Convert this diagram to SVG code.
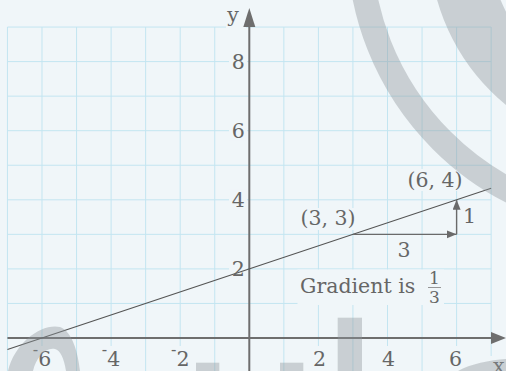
<svg xmlns="http://www.w3.org/2000/svg" width="506" height="371" viewBox="0 0 506 371">
<defs>
<style>
.grid line{stroke:#c3e5f1;stroke-width:1}
.lbl{font-family:"DejaVu Serif","Liberation Serif",serif;font-size:20.5px;fill:#666}
.bgr{fill:#f0f6f9}
.axis{stroke:#6e6e6e;stroke-width:2;fill:none}
.wm{fill:#8e969b;fill-opacity:.4}
.wma{fill:none;stroke:#8e969b;stroke-opacity:.4}
</style>
<marker id="ah" markerUnits="userSpaceOnUse" markerWidth="11" markerHeight="9" refX="10" refY="4" orient="auto">
<path d="M0,0 L10,4 L0,8 Z" fill="#6a6a6a"/>
</marker>
</defs>
<rect x="0" y="0" width="506" height="371" fill="#f0f6f9"/>
<g class="grid" id="grid">
<line x1="7.45" y1="27" x2="7.45" y2="371"/>
<line x1="42" y1="27" x2="42" y2="371"/>
<line x1="76.55" y1="27" x2="76.55" y2="371"/>
<line x1="111.1" y1="27" x2="111.1" y2="371"/>
<line x1="145.65" y1="27" x2="145.65" y2="371"/>
<line x1="180.2" y1="27" x2="180.2" y2="371"/>
<line x1="214.75" y1="27" x2="214.75" y2="371"/>
<line x1="283.85" y1="27" x2="283.85" y2="371"/>
<line x1="318.4" y1="27" x2="318.4" y2="371"/>
<line x1="352.95" y1="27" x2="352.95" y2="371"/>
<line x1="387.5" y1="27" x2="387.5" y2="371"/>
<line x1="422.05" y1="27" x2="422.05" y2="371"/>
<line x1="456.6" y1="27" x2="456.6" y2="371"/>
<line x1="491.15" y1="27" x2="491.15" y2="371"/>
<line x1="7.45" y1="27.05" x2="491.15" y2="27.05"/>
<line x1="7.45" y1="61.6" x2="491.15" y2="61.6"/>
<line x1="7.45" y1="96.15" x2="491.15" y2="96.15"/>
<line x1="7.45" y1="130.7" x2="491.15" y2="130.7"/>
<line x1="7.45" y1="165.25" x2="491.15" y2="165.25"/>
<line x1="7.45" y1="199.8" x2="491.15" y2="199.8"/>
<line x1="7.45" y1="234.35" x2="491.15" y2="234.35"/>
<line x1="7.45" y1="268.9" x2="491.15" y2="268.9"/>
<line x1="7.45" y1="303.45" x2="491.15" y2="303.45"/>
</g>
<g id="label-backgrounds" class="bgr">
<rect x="226" y="8" width="20" height="20"/>
<rect x="229" y="51.6" width="18" height="20"/>
<rect x="229" y="120.7" width="18" height="20"/>
<rect x="229" y="189.8" width="18" height="20"/>
<rect x="229" y="258.9" width="18" height="20"/>
<rect x="31" y="346" width="23" height="25"/>
<rect x="100" y="346" width="23" height="25"/>
<rect x="169" y="346" width="23" height="25"/>
<rect x="310" y="346" width="17" height="25"/>
<rect x="379" y="346" width="17" height="25"/>
<rect x="448" y="346" width="17" height="25"/>
<rect x="490" y="356" width="16" height="15"/>
<rect x="298" y="208" width="56" height="22"/>
<rect x="405" y="169" width="58" height="22"/>
<rect x="396" y="241" width="16" height="20"/>
<rect x="463" y="206" width="14" height="20"/>
<rect x="297.5" y="269.5" width="146.5" height="35.5"/>
</g>
<g id="axes">
<line class="axis" x1="249.3" y1="371" x2="249.3" y2="26"/>
<polygon points="249.3,8 243.3,27 255.3,27" fill="#6e6e6e"/>
<line class="axis" x1="7.45" y1="338" x2="492" y2="338"/>
<polygon points="506,338 491,332 491,344" fill="#6e6e6e"/>
</g>
<g id="connectors">
<line x1="7.45" y1="349.5" x2="491.15" y2="188.3" stroke="#555" stroke-width="1.1"/>
<line x1="352.95" y1="234.35" x2="456.6" y2="234.35" stroke="#6a6a6a" stroke-width="1.4" marker-end="url(#ah)"/>
<line x1="456.6" y1="234.35" x2="456.6" y2="199.8" stroke="#6a6a6a" stroke-width="1.4" marker-end="url(#ah)"/>
</g>
<g id="axis-labels" class="lbl">
<text x="233" y="22" text-anchor="middle">y</text>
<text x="493" y="373">x</text>
</g>
<g id="y-ticks" class="lbl" text-anchor="middle">
<text x="238.3" y="69.1">8</text>
<text x="238.3" y="138.2">6</text>
<text x="238.3" y="207.3">4</text>
<text x="238.3" y="276.4">2</text>
</g>
<g id="x-ticks" class="lbl" text-anchor="middle">
<text x="42" y="366"><tspan font-size="16" dy="-11.5">-</tspan><tspan dy="11.5">6</tspan></text>
<text x="111.1" y="366"><tspan font-size="16" dy="-11.5">-</tspan><tspan dy="11.5">4</tspan></text>
<text x="180.2" y="366"><tspan font-size="16" dy="-11.5">-</tspan><tspan dy="11.5">2</tspan></text>
<text x="319.5" y="366">2</text>
<text x="388.5" y="366">4</text>
<text x="455.5" y="366">6</text>
</g>
<g id="point-3-3" class="lbl"><text x="300.5" y="225">(3, 3)</text></g>
<g id="point-6-4" class="lbl"><text x="407.5" y="186.7">(6, 4)</text></g>
<g id="run-label" class="lbl"><text x="404" y="257.3" text-anchor="middle">3</text></g>
<g id="rise-label" class="lbl"><text x="469.5" y="222.7" text-anchor="middle">1</text></g>
<g id="gradient-label" class="lbl">
<text x="300" y="292.7">Gradient is</text>
<text x="434.3" y="284" text-anchor="middle" font-size="17">1</text>
<line x1="428" y1="287.5" x2="441" y2="287.5" stroke="#8a8a8a" stroke-width="0.9"/>
<text x="434.3" y="302.5" text-anchor="middle" font-size="17">3</text>
</g>
<g id="watermark">
<circle class="wma" cx="640" cy="-58" r="280.5" stroke-width="25"/>
<circle class="wma" cx="640" cy="-58" r="181" stroke-width="60"/>
<rect class="wm" x="196" y="362.7" width="23.3" height="8.3"/>
<rect class="wm" x="280" y="362.7" width="23.3" height="8.3"/>
<rect class="wm" x="337.7" y="317.7" width="24.3" height="53.3"/>
<path class="wm" d="M8,371 C15,342 42,323 60,327 C72,331 78,352 80,371 L66,371 C64,358 60,350 55,349 C45,347 36,358 33,371 Z"/>
<path class="wm" d="M458,371 C470,364 490,360 506,359 L506,371 Z"/>
</g>
</svg>
